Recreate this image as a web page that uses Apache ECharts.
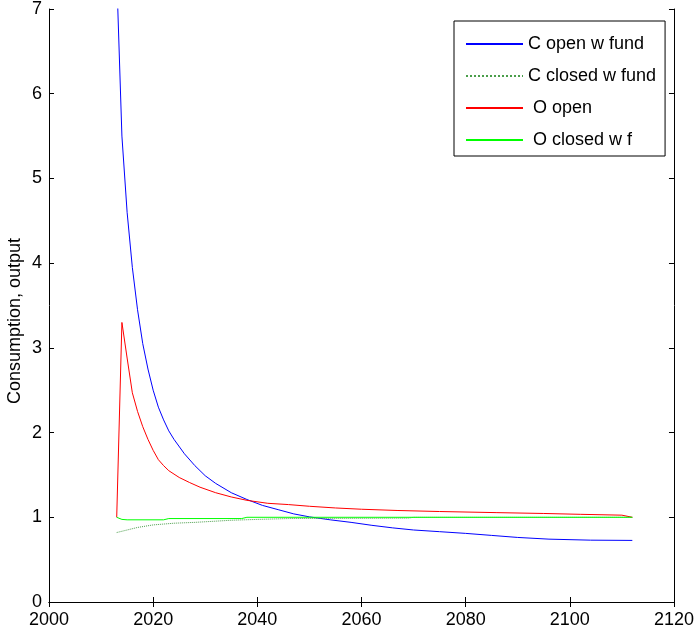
<!DOCTYPE html>
<html>
<head>
<meta charset="utf-8">
<title>Consumption, output</title>
<script src="https://cdn.jsdelivr.net/npm/echarts@6/dist/echarts.min.js"></script>
<style>
	html, body { margin: 0; padding: 0; background: #fff; }
	#chart { width: 697px; height: 635px; }
</style>
</head>
<body>
<div id="chart"></div>
<script>
// values (years on x, level on y)
var cOpenYears = [2013, 2014, 2015, 2016, 2017, 2018, 2019, 2020, 2021, 2022, 2023, 2024, 2026, 2028, 2030, 2032, 2035, 2038, 2041, 2044, 2047, 2050, 2054, 2058, 2062, 2066, 2070, 2075, 2080, 2085, 2090, 2096, 2104, 2112];
var cOpenVals = [7.4, 5.5, 4.6, 3.95, 3.45, 3.05, 2.75, 2.5, 2.3, 2.15, 2.02, 1.92, 1.75, 1.61, 1.49, 1.40, 1.29, 1.21, 1.14, 1.09, 1.04, 1.005, 0.97, 0.94, 0.905, 0.875, 0.85, 0.83, 0.81, 0.786, 0.762, 0.742, 0.73, 0.727];

var cClosedYears = [2013, 2015, 2017, 2020, 2024, 2028, 2035, 2040, 2046, 2069, 2070, 2112];
var cClosedVals = [0.82, 0.85, 0.88, 0.91, 0.93, 0.94, 0.965, 0.975, 0.985, 0.99, 1.0, 1.0];

var oOpenYears = [2013, 2014, 2015, 2016, 2017, 2018, 2019, 2020, 2021, 2022, 2023, 2025, 2027, 2029, 2032, 2035, 2038, 2042, 2046, 2050, 2055, 2060, 2067, 2075, 2086, 2095, 2102, 2110, 2112];
var oOpenVals = [1.0, 3.3, 2.88, 2.47, 2.25, 2.07, 1.92, 1.79, 1.68, 1.61, 1.55, 1.47, 1.41, 1.355, 1.29, 1.24, 1.20, 1.165, 1.15, 1.13, 1.11, 1.095, 1.08, 1.068, 1.055, 1.045, 1.035, 1.025, 1.0];

var oClosedYears = [2013, 2014, 2015, 2022, 2023, 2037, 2038, 2112];
var oClosedVals = [1.0, 0.975, 0.97, 0.97, 0.985, 0.985, 1.0, 1.0];

var seriesNames = ['C open w fund', 'C closed w fund', ' O open', ' O closed w f'];
var yTitle = 'Consumption, output';

function pairs(xs, ys) {
	return xs.map(function (x, i) { return [x, ys[i]]; });
}

var font = 'Liberation Sans, Arial, sans-serif';

window.onload = function () {
	var chart = echarts.init(document.getElementById('chart'));

	var tick = { show: true, inside: true, length: 5, lineStyle: { color: '#000', width: 1 } };
	var axisLine = { show: true, lineStyle: { color: '#000', width: 1 } };

	var option = {
		animation: false,
		backgroundColor: '#fff',
		grid: { left: 49, right: 20, top: 8, bottom: 33 },
		legend: {
			orient: 'vertical',
			left: 454,
			top: 21,
			padding: [13, 9, 6, 11],
			itemWidth: 57,
			itemHeight: 14,
			itemGap: 12,
			borderColor: '#000',
			borderWidth: 1,
			backgroundColor: '#fff',
			itemStyle: { opacity: 0 },
			textStyle: { color: '#000', fontSize: 18, fontFamily: font, lineHeight: 20 },
			data: seriesNames
		},
		xAxis: [{
			type: 'value',
			min: 2000, max: 2120, interval: 20,
			axisLine: axisLine,
			axisTick: tick,
			splitLine: { show: false },
			axisLabel: {
				color: '#000', fontSize: 18, fontFamily: font, margin: 9,
				formatter: function (v) { return String(v); }
			}
		}, {
			type: 'value',
			position: 'top',
			min: 2000, max: 2120, interval: 20,
			axisLine: axisLine,
			axisTick: tick,
			splitLine: { show: false },
			axisLabel: { show: false }
		}],
		yAxis: [{
			type: 'value',
			min: 0, max: 7, interval: 1,
			axisLine: axisLine,
			axisTick: tick,
			splitLine: { show: false },
			axisLabel: { color: '#000', fontSize: 18, fontFamily: font, margin: 7 }
		}, {
			type: 'value',
			position: 'right',
			min: 0, max: 7, interval: 1,
			axisLine: axisLine,
			axisTick: tick,
			splitLine: { show: false },
			axisLabel: { show: false }
		}],
		graphic: [{
			type: 'text',
			x: 15, y: 321,
			rotation: Math.PI / 2,
			style: {
				text: yTitle,
				fill: '#000',
				font: '18px ' + font,
				textAlign: 'center',
				textVerticalAlign: 'middle'
			}
		}],
		series: [{
			name: seriesNames[0],
			type: 'line',
			symbol: 'none',
			lineStyle: { color: '#0000ff', width: 1 },
			itemStyle: { color: '#0000ff' },
			data: pairs(cOpenYears, cOpenVals)
		}, {
			name: seriesNames[1],
			type: 'line',
			symbol: 'none',
			lineStyle: { color: '#4a9e4a', width: 1, type: 'dotted' },
			itemStyle: { color: '#4a9e4a' },
			data: pairs(cClosedYears, cClosedVals)
		}, {
			name: seriesNames[2],
			type: 'line',
			symbol: 'none',
			lineStyle: { color: '#ff0000', width: 1 },
			itemStyle: { color: '#ff0000' },
			data: pairs(oOpenYears, oOpenVals)
		}, {
			name: seriesNames[3],
			type: 'line',
			symbol: 'none',
			lineStyle: { color: '#00ff00', width: 1 },
			itemStyle: { color: '#00ff00' },
			data: pairs(oClosedYears, oClosedVals)
		}]
	};
	chart.setOption(option);
};
</script>
</body>
</html>
